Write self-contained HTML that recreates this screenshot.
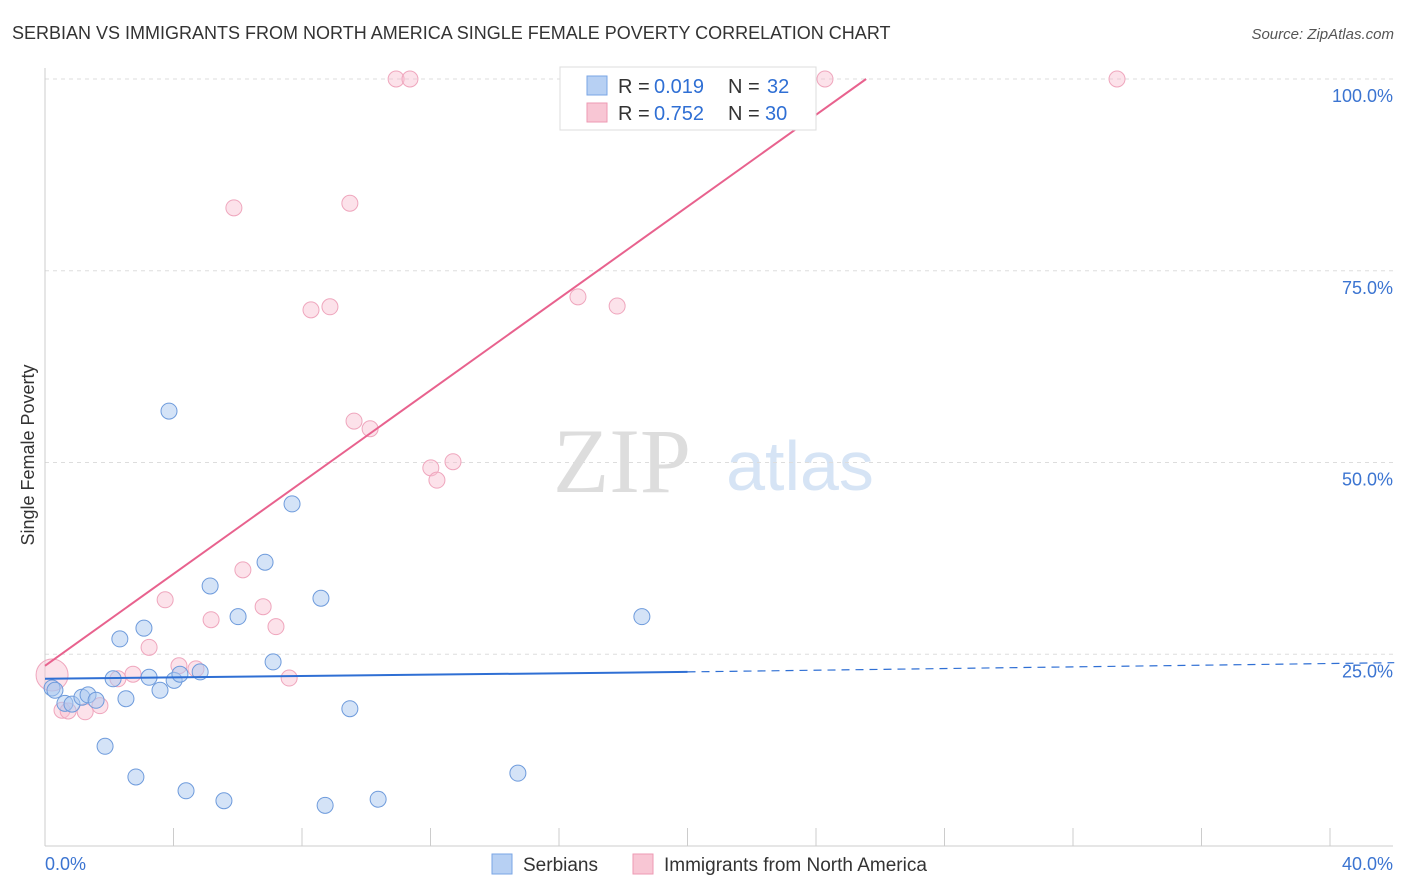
<!DOCTYPE html>
<html><head><meta charset="utf-8"><style>
body{margin:0;background:#fff;font-family:"Liberation Sans",sans-serif;}
svg{display:block}
</style></head><body>
<svg id="c" width="1406" height="892" xmlns="http://www.w3.org/2000/svg">
<text x="12" y="39" font-size="18" fill="#333">SERBIAN VS IMMIGRANTS FROM NORTH AMERICA SINGLE FEMALE POVERTY CORRELATION CHART</text>
<text x="1394" y="39" font-size="15" fill="#555" font-style="italic" text-anchor="end">Source: ZipAtlas.com</text>
<text x="622" y="492" font-size="92" fill="#ddd" font-family="Liberation Serif,serif" text-anchor="middle">ZIP</text>
<text x="800" y="490" font-size="70" fill="#d6e4f5" text-anchor="middle">atlas</text>
<text transform="translate(34,455) rotate(-90)" font-size="18" fill="#333" text-anchor="middle">Single Female Poverty</text>
<g id="grid"></g><g id="marks"></g>
<g>
<rect x="560" y="67" width="256" height="63" fill="#fff" stroke="#ddd"/>
<rect x="587" y="76" width="20" height="19" fill="#b7d0f3" stroke="#7aa6e6"/>
<rect x="587" y="103" width="20" height="19" fill="#f8c6d4" stroke="#ee9ab3"/>
<text x="618" y="93" font-size="20" fill="#333">R = </text><text x="654" y="93" font-size="20" fill="#2f6fd4">0.019</text>
<text x="728" y="93" font-size="20" fill="#333">N = </text><text x="767" y="93" font-size="20" fill="#2f6fd4">32</text>
<text x="618" y="120" font-size="20" fill="#333">R = </text><text x="654" y="120" font-size="20" fill="#2f6fd4">0.752</text>
<text x="728" y="120" font-size="20" fill="#333">N = </text><text x="765" y="120" font-size="20" fill="#2f6fd4">30</text>
</g>
<g>
<rect x="492" y="854" width="20" height="20" fill="#b7d0f3" stroke="#7aa6e6"/>
<text x="523" y="871" font-size="19" fill="#333">Serbians</text>
<rect x="633" y="854" width="20" height="20" fill="#f8c6d4" stroke="#ee9ab3"/>
<text x="664" y="871" font-size="19" fill="#333">Immigrants from North America</text>
</g>
</svg>
<script>
const blueX=[0.22,0.31,0.62,0.84,1.15,1.34,1.59,1.87,2.12,2.33,2.52,2.83,3.08,3.24,3.58,3.86,4.02,4.20,4.39,4.83,5.14,5.57,6.01,6.85,7.10,7.69,8.59,8.72,9.49,10.37,14.72,18.58];
const blueY=[20.6,20.3,18.6,18.5,19.4,19.7,19.0,13.0,21.8,27.0,19.2,9.0,28.4,22.0,20.3,56.7,21.6,22.4,7.2,22.7,33.9,5.9,29.9,37.0,24.0,44.6,32.3,5.3,17.9,6.1,9.5,29.9];
const pinkX=[0.22,0.53,0.72,1.25,1.71,2.27,2.74,3.24,3.74,4.17,4.70,5.17,5.88,6.16,6.79,7.19,7.60,8.28,8.87,9.49,9.62,10.12,10.93,11.36,12.01,12.20,12.70,16.59,17.81,24.28,33.37];
const pinkY=[22.3,17.7,17.6,17.5,18.3,21.8,22.4,25.9,32.1,23.5,23.1,29.5,83.2,36.0,31.2,28.6,21.9,69.9,70.3,83.8,55.4,54.4,100,100,49.3,47.7,50.1,71.6,70.4,100,100];
const yTicks=[25,50,75,100];
const yTickLabels=["25.0%","50.0%","75.0%","100.0%"];
const xTickVals=[0,4,8,12,16,20,24,28,32,36,40];
const blueLine=[[0,21.8],[20,22.7],[42,23.9]];
const pinkLine=[[0,23.5],[25.56,100]];
const NS="http://www.w3.org/2000/svg";
const sx=v=>45+v*32.125, sy=v=>846-v*7.67;
function mk(t,a,p){const e=document.createElementNS(NS,t);for(const k in a)e.setAttribute(k,a[k]);p.appendChild(e);return e;}
const g=document.getElementById('grid'),m=document.getElementById('marks');
yTicks.forEach((v,i)=>{
 const l=mk('line',{x1:45,x2:1393,y1:sy(v),y2:sy(v),stroke:'#ddd','stroke-dasharray':'4,4'},g);
 
 
 const t=mk('text',{x:1393,y:sy(v)+23,'font-size':18,fill:'#3b74d1','text-anchor':'end'},g);t.textContent=yTickLabels[i];
 
 
});
mk('line',{x1:45,x2:45,y1:68,y2:846,stroke:'#ccc'},g);
mk('line',{x1:45,x2:1393,y1:846,y2:846,stroke:'#ccc'},g);
xTickVals.forEach(v=>{const l=mk('line',{x1:sx(v),x2:sx(v),y1:828,y2:846,stroke:'#ccc'},g);
 
 });
let t=mk('text',{x:45,y:870,'font-size':18,fill:'#3b74d1'},g);t.textContent='0.0%';


t=mk('text',{x:1393,y:870,'font-size':18,fill:'#3b74d1','text-anchor':'end'},g);t.textContent='40.0%';


pinkX.forEach((x,i)=>{const c=mk('circle',{cx:sx(x),cy:sy(pinkY[i]),r:i==0?16:8,fill:'rgba(248,190,208,0.45)',stroke:'#efa6bd','stroke-width':1},m);
 
 });
blueX.forEach((x,i)=>{const c=mk('circle',{cx:sx(x),cy:sy(blueY[i]),r:8,fill:'rgba(170,200,240,0.5)',stroke:'#6e9bdc','stroke-width':1},m);
 
 });
let l=mk('line',{x1:sx(blueLine[0][0]),y1:sy(blueLine[0][1]),x2:sx(blueLine[1][0]),y2:sy(blueLine[1][1]),stroke:'#2f6fd4','stroke-width':2},m);


l=mk('line',{x1:sx(blueLine[1][0]),y1:sy(blueLine[1][1]),x2:sx(blueLine[2][0]),y2:sy(blueLine[2][1]),stroke:'#2f6fd4','stroke-width':1.2,'stroke-dasharray':'8,6'},m);


l=mk('line',{x1:sx(pinkLine[0][0]),y1:sy(pinkLine[0][1]),x2:sx(pinkLine[1][0]),y2:sy(pinkLine[1][1]),stroke:'#e8628e','stroke-width':2},m);


</script>
</body></html>
